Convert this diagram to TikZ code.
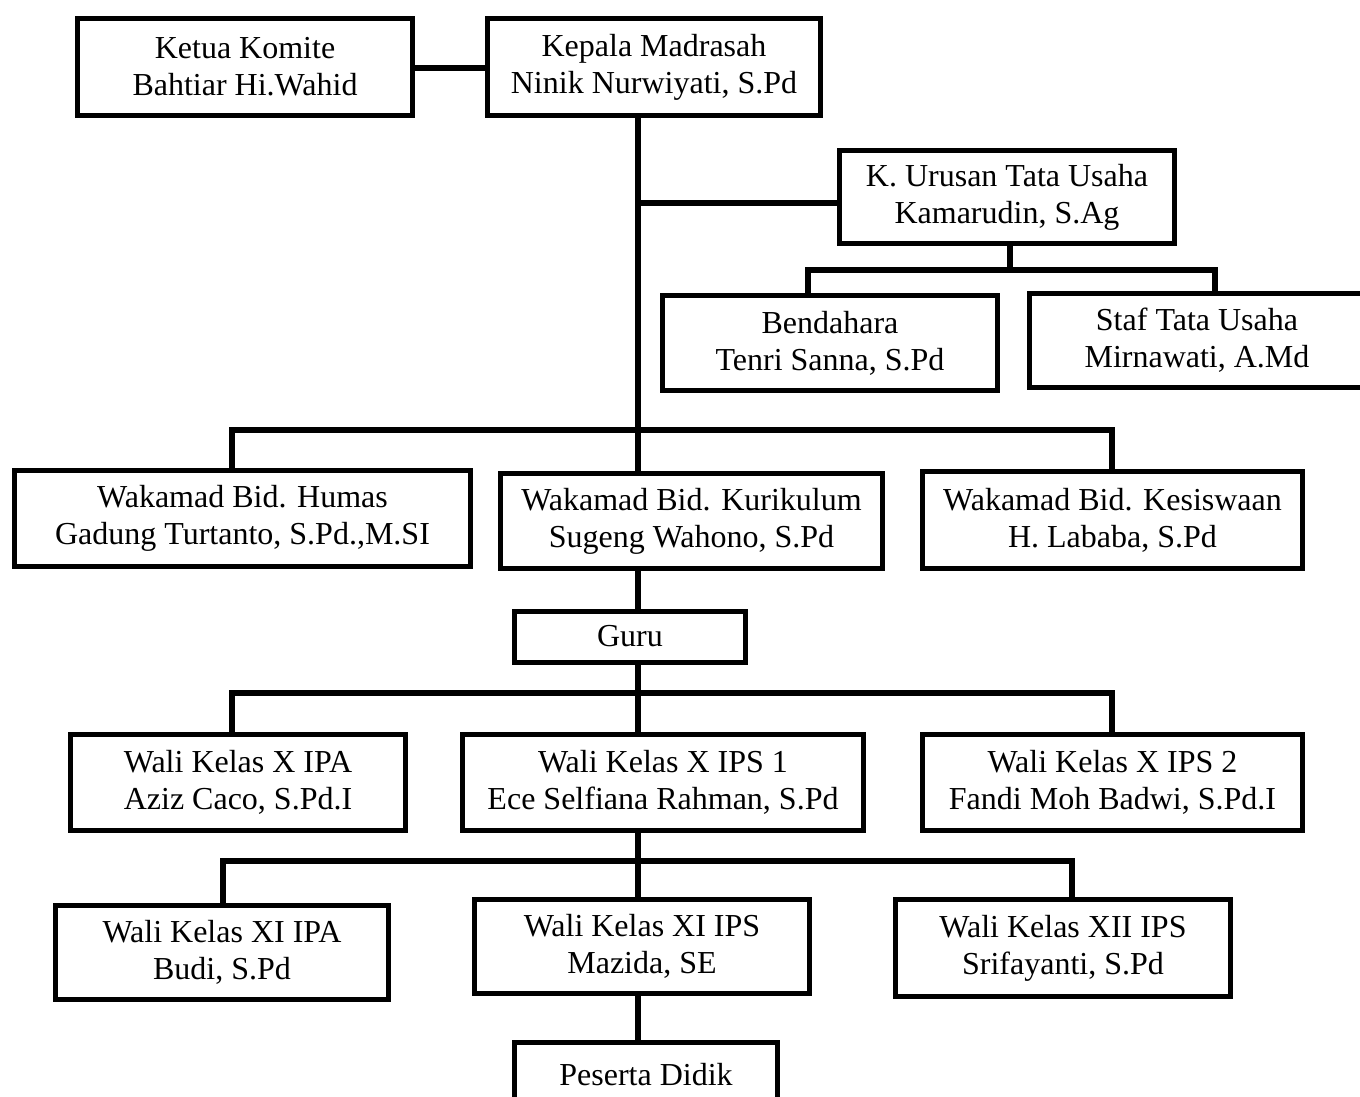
\documentclass[tikz,border=0pt]{standalone}
\usepackage{fontspec}
\setmainfont{Liberation Serif}
\begin{document}
\begin{tikzpicture}[x=0.5pt,y=-0.5pt,
  box/.style={draw=black, line width=2.5pt, fill=white, align=center, inner sep=0pt,
    font=\fontsize{16}{18.5}\selectfont},
  link/.style={line width=2.7pt, line join=miter}]
\useasboundingbox (0,0) rectangle (1360,1097);
\clip (0,0) rectangle (1360,1097);
\fill[white] (0,0) rectangle (1360,1097);

% nodes
\node[box, minimum width=167.5pt, minimum height=48.5pt] (ketua) at (245,67) {Ketua Komite\\Bahtiar Hi.Wahid};
\node[box, minimum width=166.5pt, minimum height=48.5pt] (kepala) at (654,67) {Kepala Madrasah\\Ninik Nurwiyati, S.Pd};
\node[box, minimum width=167.5pt, minimum height=46.5pt] (kurusan) at (1007,197) {K. Urusan Tata Usaha\\Kamarudin, S.Ag};
\node[box, minimum width=167.5pt, minimum height=47.5pt] (bend) at (830,343) {Bendahara\\Tenri Sanna, S.Pd};
\node[box, minimum width=167.5pt, minimum height=47pt] (staf) at (1197,340.5) {Staf Tata Usaha\\Mirnawati, A.Md};
\node[box, minimum width=228pt, minimum height=48pt] (humas) at (242.5,518.5) {Wakamad Bid. Humas\\Gadung Turtanto, S.Pd.,M.SI};
\node[box, minimum width=191pt, minimum height=47.5pt] (kurik) at (691.5,521) {Wakamad Bid. Kurikulum\\Sugeng Wahono, S.Pd};
\node[box, minimum width=190pt, minimum height=48.5pt] (kesis) at (1112.5,520) {Wakamad Bid. Kesiswaan\\H. Lababa, S.Pd};
\node[box, minimum width=115.5pt, minimum height=25.5pt] (guru) at (630,636.5) {Guru};
\node[box, minimum width=167.5pt, minimum height=48pt] (xipa) at (238,782.5) {Wali Kelas X IPA\\Aziz Caco, S.Pd.I};
\node[box, minimum width=200.5pt, minimum height=48pt] (xips1) at (663,782.5) {Wali Kelas X IPS 1\\Ece Selfiana Rahman, S.Pd};
\node[box, minimum width=190pt, minimum height=48pt] (xips2) at (1112.5,782.5) {Wali Kelas X IPS 2\\Fandi Moh Badwi, S.Pd.I};
\node[box, minimum width=166.5pt, minimum height=47pt] (xiipa) at (222,952.5) {Wali Kelas XI IPA\\Budi, S.Pd};
\node[box, minimum width=167.5pt, minimum height=47pt] (xiips) at (642,946.5) {Wali Kelas XI IPS\\Mazida, SE};
\node[box, minimum width=167.5pt, minimum height=48.5pt] (xiiips) at (1063,948) {Wali Kelas XII IPS\\Srifayanti, S.Pd};
\node[box, minimum width=131.5pt, minimum height=32.5pt] (peserta) at (646,1075) {Peserta Didik};

% helper coordinates
\coordinate (tx) at (638,0);
\coordinate (ua) at (638,203);
\coordinate (ub) at (1010,270);
\coordinate (ubl) at (808,270);
\coordinate (ubr) at (1215,270);
\coordinate (b1l) at (232,430);
\coordinate (b1r) at (1112,430);
\coordinate (b2c) at (638,693);
\coordinate (b2l) at (232,693);
\coordinate (b2r) at (1112,693);
\coordinate (b3l) at (223,861);
\coordinate (b3r) at (1072,861);

% connectors
\draw[link] (ketua.east |- 0,68) -- (kepala.west |- 0,68);
\draw[link] (kepala.south -| tx) -- (kurik.north -| tx);
\draw[link] (ua) -- (ua -| kurusan.west);
\draw[link] (kurusan.south -| ub) -- (ub);
\draw[link] (bend.north -| ubl) -- (ubl) -- (ubr) -- (staf.north -| ubr);
\draw[link] (humas.north -| b1l) -- (b1l) -- (b1r) -- (kesis.north -| b1r);
\draw[link] (kurik.south -| tx) -- (guru.north -| tx);
\draw[link] (guru.south -| tx) -- (b2c);
\draw[link] (xipa.north -| b2l) -- (b2l) -- (b2r) -- (xips2.north -| b2r);
\draw[link] (b2c) -- (xips1.north -| tx);
\draw[link] (xips1.south -| tx) -- (xiips.north -| tx);
\draw[link] (xiipa.north -| b3l) -- (b3l) -- (b3r) -- (xiiips.north -| b3r);
\draw[link] (xiips.south -| tx) -- (peserta.north -| tx);
\end{tikzpicture}
\end{document}
